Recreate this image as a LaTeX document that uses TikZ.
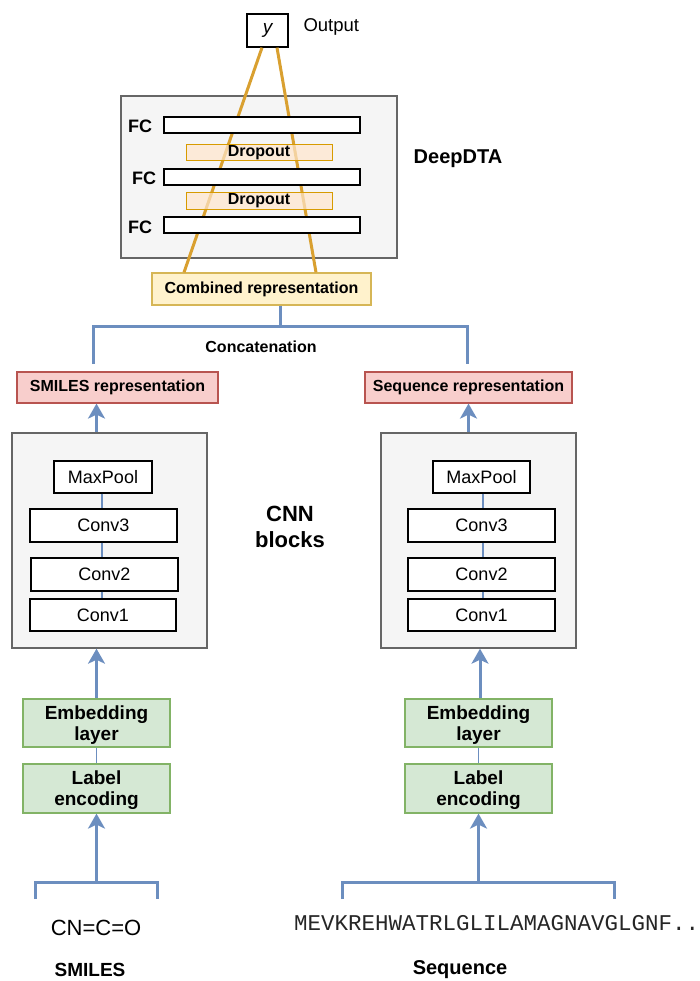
\documentclass[tikz,border=0pt]{standalone}
\usepackage{fontspec}
\setmainfont{Liberation Sans}
\setmonofont{Liberation Mono}
\usetikzlibrary{arrows.meta,positioning,calc}

\definecolor{boxgray}{HTML}{F5F5F5}
\definecolor{bordergray}{HTML}{666666}
\definecolor{dropfill}{HTML}{FFE6CC}
\definecolor{dropdraw}{HTML}{D79B00}
\definecolor{combfill}{HTML}{FFF2CC}
\definecolor{combdraw}{HTML}{D6B656}
\definecolor{repfill}{HTML}{F8CECC}
\definecolor{repdraw}{HTML}{B85450}
\definecolor{embfill}{HTML}{D5E8D4}
\definecolor{embdraw}{HTML}{82B366}
\definecolor{linkblue}{HTML}{6C8EBF}
\definecolor{fcgold}{HTML}{D9A030}

\newcommand{\fs}[1]{\fontsize{#1}{#1}\selectfont}

\begin{document}
\begin{tikzpicture}[
    x=1pt, y=-1pt,
    outer/.style={draw=bordergray, line width=1.4pt, fill=boxgray, rectangle, inner sep=0pt},
    fcbar/.style={draw=black, line width=1.2pt, fill=white, rectangle, minimum width=196pt, minimum height=16pt, inner sep=0pt},
    dropbox/.style={draw=dropdraw, line width=1pt, fill=dropfill, fill opacity=0.7, text opacity=1, rectangle, minimum width=146pt, minimum height=16.5pt, inner sep=0pt, font=\fs{16}\bfseries},
    combbox/.style={draw=combdraw, line width=1.2pt, fill=combfill, rectangle, minimum width=219pt, minimum height=32pt, inner sep=0pt, font=\fs{16}\bfseries},
    repbox/.style={draw=repdraw, line width=1.2pt, fill=repfill, rectangle, minimum height=31pt, inner sep=0pt, font=\fs{16}\bfseries},
    layer/.style={draw=black, line width=1.3pt, fill=white, rectangle, minimum width=147pt, minimum height=33pt, inner sep=0pt, font=\fs{18}},
    embbox/.style={draw=embdraw, line width=1.2pt, fill=embfill, rectangle, minimum width=147pt, minimum height=48pt, inner sep=0pt, align=center, font=\fs{19}\bfseries, text depth=0pt},
    edge/.style={-{Stealth[length=15pt, width=17pt, inset=4pt]}, line width=3pt, draw=linkblue},
    link/.style={line width=3pt, draw=linkblue},
    thinlink/.style={line width=2.5pt, draw=linkblue},
    fcline/.style={line width=3pt, draw=fcgold},
    label/.style={font=\fs{18}\bfseries},
    title/.style={font=\fs{20}\bfseries, align=center},
]
\useasboundingbox (0,0) rectangle (699,981);

% Output
\node[draw=black, line width=1.3pt, fill=white, minimum width=41pt, minimum height=33pt, inner sep=0pt, font=\fs{19}\itshape] (yout) at (267.5,30.5) {y};
\node[font=\fs{18.5}, anchor=west] (outlbl) at (300,27) {Output};

% DeepDTA
\node[outer, minimum width=276pt, minimum height=162pt] (deep) at (259,177) {};
\node[combbox] (comb) at (261.5,289) {Combined representation};
\draw[fcline] ($(yout.south)+(-5.5,0)$) -- ($(comb.north)+(-77.5,0)$);
\draw[fcline] ($(yout.south)+(9.5,0)$) -- ($(comb.north)+(54.5,0)$);
\node[fcbar] (fc1) at (262,125) {};
\node[fcbar] (fc2) at (262,177) {};
\node[fcbar] (fc3) at (262,225) {};
\node[dropbox] (drop1) at (259,152.5) {Dropout};
\node[dropbox] (drop2) at (259,201) {Dropout};
\node[label] (fc1lbl) at (140,126) {FC};
\node[label] (fc2lbl) at (144,178) {FC};
\node[label] (fc3lbl) at (140,227) {FC};
\node[title] (deeplbl) at (458,159) {DeepDTA};

% Concatenation
\node[repbox, minimum width=201pt] (smilesrep) at (117.5,387.5) {SMILES representation};
\node[repbox, minimum width=207pt] (seqrep) at (468.5,387.5) {Sequence representation};
\coordinate (split) at (280,326);
\coordinate (catL) at (93,364);
\coordinate (catR) at (467,364);
\draw[link] (split |- comb.south) -- (split);
\draw[link] (catL) |- (split) -| (catR);
\node[font=\fs{16}\bfseries] (catlbl) at (261,347) {Concatenation};

% CNN blocks
\node[outer, minimum width=195pt, minimum height=215pt] (cnnL) at (109.5,540.5) {};
\node[outer, minimum width=195pt, minimum height=215pt] (cnnR) at (478.5,540.5) {};
\node[layer, minimum width=98pt, minimum height=32pt] (mpL) at (103,477) {MaxPool};
\node[layer] (c3L) at (103.5,525.5) {Conv3};
\node[layer] (c2L) at (104.5,574.5) {Conv2};
\node[layer, minimum width=146pt, minimum height=32pt] (c1L) at (103,615) {Conv1};
\node[layer, minimum width=97pt, minimum height=32pt] (mpR) at (481.5,477) {MaxPool};
\node[layer] (c3R) at (481.5,525.5) {Conv3};
\node[layer] (c2R) at (481.5,574.5) {Conv2};
\node[layer, minimum height=32pt] (c1R) at (481.5,615) {Conv1};
\draw[thinlink] ($(mpL.south)+(-1,0)$) -- ($(mpL.south |- c3L.north)+(-1,0)$);
\draw[thinlink] ($(c3L.south)+(-1.5,0)$) -- ($(c3L.south |- c2L.north)+(-1.5,0)$);
\draw[thinlink] ($(c2L.south)+(-2.5,0)$) -- ($(c2L.south |- c1L.north)+(-2.5,0)$);
\draw[thinlink] ($(mpR.south)+(1.5,0)$) -- ($(mpR.south |- c3R.north)+(1.5,0)$);
\draw[thinlink] ($(c3R.south)+(1.5,0)$) -- ($(c3R.south |- c2R.north)+(1.5,0)$);
\draw[thinlink] ($(c2R.south)+(1.5,0)$) -- ($(c2R.south |- c1R.north)+(1.5,0)$);
\node[title, font=\fs{22}\bfseries] (cnnlbl) at (290,527) {CNN\\[4pt]blocks};

% Encoding
\node[embbox] (embL) at (96.5,723) {Embedding\\[2pt]layer};
\node[embbox, minimum height=49pt] (lenL) at (96.5,788.5) {Label\\[2pt]encoding};
\node[embbox] (embR) at (478.5,723) {Embedding\\[2pt]layer};
\node[embbox, minimum height=49pt] (lenR) at (478.5,788.5) {Label\\[2pt]encoding};
\draw[thinlink, line width=1.8pt] (embL.south) -- (lenL.north);
\draw[thinlink, line width=1.8pt] (embR.south) -- (lenR.north);
\draw[edge] (embL.north) -- (embL.north |- cnnL.south);
\draw[edge] ($(embR.north)+(1.5,0)$) -- ($(embR.north |- cnnR.south)+(1.5,0)$);
\draw[edge] (cnnL.north -| embL) -- (smilesrep.south -| embL);
\draw[edge] (cnnR.north -| seqrep) -- (seqrep.south);

% Inputs
\coordinate (brL) at (96.5,882);
\coordinate (brR) at (478.5,882);
\draw[link] (35,899) |- (brL) -| (157,899);
\draw[link] (342,899) |- (brR) -| (614,899);
\draw[edge] (brL) -- (lenL.south);
\draw[edge] (brR) -- (lenR.south);
\node[font=\fs{22}] (smiles) at (96,928) {CN=C=O};
\node[font=\fs{22.5}\ttfamily, text=black!85, anchor=west, inner sep=0pt] (seq) at (294,923) {MEVKREHWATRLGLILAMAGNAVGLGNF...};
\node[font=\fs{19}\bfseries] (smileslbl) at (90,970) {SMILES};
\node[font=\fs{20}\bfseries] (seqlbl) at (460,970) {Sequence};

\end{tikzpicture}
\end{document}
